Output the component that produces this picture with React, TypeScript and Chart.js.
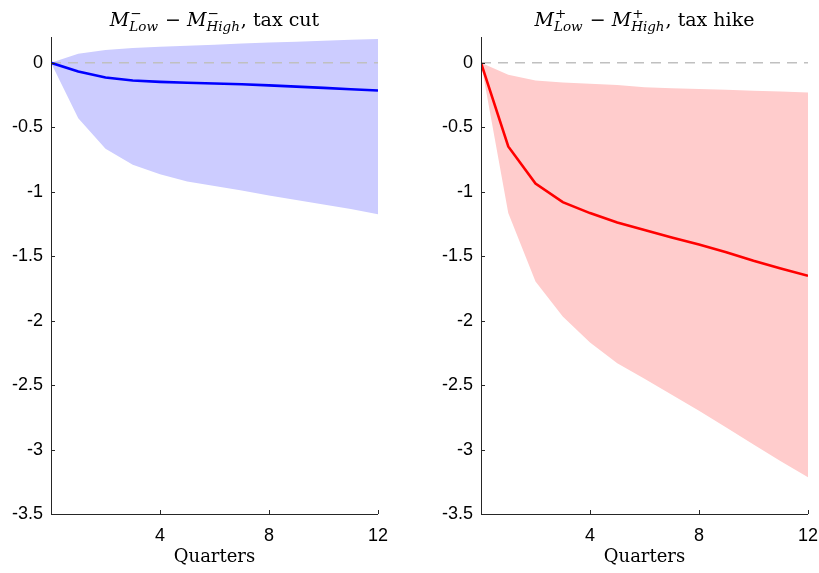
import React, { useEffect, useRef } from "react";
import { Chart, registerables } from "chart.js";

Chart.register(...registerables);

const quarters = [0, 1, 2, 3, 4, 5, 6, 7, 8, 9, 10, 11, 12];
const cutMean = [0, -0.067, -0.114, -0.137, -0.148, -0.155, -0.161, -0.166, -0.175, -0.185, -0.195, -0.205, -0.215];
const cutUpper = [0, 0.07, 0.1, 0.115, 0.125, 0.133, 0.14, 0.15, 0.157, 0.164, 0.171, 0.178, 0.185];
const cutLower = [0, -0.43, -0.667, -0.79, -0.864, -0.92, -0.955, -0.99, -1.03, -1.065, -1.1, -1.135, -1.174];
const hikeMean = [0, -0.649, -0.936, -1.081, -1.166, -1.239, -1.298, -1.355, -1.41, -1.47, -1.536, -1.595, -1.652];
const hikeUpper = [0, -0.093, -0.137, -0.153, -0.163, -0.172, -0.189, -0.197, -0.203, -0.21, -0.216, -0.223, -0.23];
const hikeLower = [0, -1.166, -1.696, -1.968, -2.17, -2.33, -2.45, -2.575, -2.7, -2.83, -2.96, -3.09, -3.215];
const yTicks = [0, -0.5, -1, -1.5, -2, -2.5, -3, -3.5];
const xTicks = [4, 8, 12];
const xLabel = "Quarters";

type Part = { t?: string; sup?: string; sub?: string; italic?: boolean };
const cutTitle: Part[] = [
  { t: "M", italic: true },
  { sup: "\u2212", sub: "Low" },
  { t: " \u2212 " },
  { t: "M", italic: true },
  { sup: "\u2212", sub: "High" },
  { t: ", tax cut" },
];
const hikeTitle: Part[] = [
  { t: "M", italic: true },
  { sup: "+", sub: "Low" },
  { t: " \u2212 " },
  { t: "M", italic: true },
  { sup: "+", sub: "High" },
  { t: ", tax hike" },
];

const SERIF = "'DejaVu Serif', 'Liberation Serif', serif";
const SANS = "'Liberation Sans', Arial, sans-serif";

function pts(ys: number[]) {
  return quarters.map((q, i) => ({ x: q, y: ys[i] }));
}

function makePlugin(title: Part[]) {
  return {
    id: "decor",
    afterDraw(chart: any) {
      const ctx = chart.ctx as CanvasRenderingContext2D;
      const a = chart.chartArea;
      const xs = chart.scales.x;
      const ys = chart.scales.y;
      ctx.save();
      // axes
      ctx.strokeStyle = "#262626";
      ctx.lineWidth = 1;
      ctx.beginPath();
      ctx.moveTo(a.left + 0.5, a.top);
      ctx.lineTo(a.left + 0.5, a.bottom + 0.5);
      ctx.lineTo(a.right, a.bottom + 0.5);
      ctx.stroke();
      // inward ticks
      ctx.beginPath();
      for (const v of yTicks) {
        const p = Math.round(ys.getPixelForValue(v)) + 0.5;
        ctx.moveTo(a.left, p);
        ctx.lineTo(a.left + 4, p);
      }
      for (const v of xTicks) {
        const p = Math.round(xs.getPixelForValue(v)) + 0.5;
        ctx.moveTo(p, a.bottom);
        ctx.lineTo(p, a.bottom - 4);
      }
      ctx.stroke();
      // x label
      ctx.fillStyle = "#000";
      ctx.font = `18px ${SERIF}`;
      ctx.textAlign = "center";
      ctx.textBaseline = "alphabetic";
      ctx.fillText(xLabel, (a.left + a.right) / 2, 562);
      // title
      const big = 19;
      const small = 13.5;
      const bigFont = (it?: boolean) => `${it ? "italic " : ""}${big}px ${SERIF}`;
      const smallFont = (it?: boolean) => `${it ? "italic " : ""}${small}px ${SERIF}`;
      ctx.textAlign = "left";
      let total = 0;
      const widths: number[] = [];
      for (const p of title) {
        let w = 0;
        if (p.t !== undefined) {
          ctx.font = bigFont(p.italic);
          w = ctx.measureText(p.t).width;
        } else {
          ctx.font = smallFont(false);
          const w1 = ctx.measureText(p.sup || "").width;
          ctx.font = smallFont(true);
          const w2 = ctx.measureText(p.sub || "").width;
          w = Math.max(w1, w2) + 1;
        }
        widths.push(w);
        total += w;
      }
      let x = (a.left + a.right) / 2 - total / 2;
      const base = 26;
      title.forEach((p, i) => {
        if (p.t !== undefined) {
          ctx.font = bigFont(p.italic);
          ctx.fillText(p.t, x, base);
        } else {
          ctx.font = smallFont(false);
          ctx.fillText(p.sup || "", x + 1, base - 8);
          ctx.font = smallFont(true);
          ctx.fillText(p.sub || "", x, base + 5);
        }
        x += widths[i];
      });
      ctx.restore();
    },
  };
}

function Panel(props: {
  mean: number[];
  upper: number[];
  lower: number[];
  line: string;
  band: string;
  title: Part[];
  left: number;
  width: number;
  padLeft: number;
  padRight: number;
}) {
  const ref = useRef<HTMLCanvasElement>(null);
  useEffect(() => {
    const chart = new Chart(ref.current!, {
      type: "line",
      data: {
        datasets: [
          {
            data: pts(props.mean),
            borderColor: props.line,
            borderWidth: 2.6,
            pointRadius: 0,
            fill: false,
            tension: 0,
          },
          {
            data: [
              { x: 0, y: 0 },
              { x: 12, y: 0 },
            ],
            borderColor: "#c0c0c0",
            borderWidth: 1.5,
            borderDash: [10, 7],
            pointRadius: 0,
            fill: false,
          },
          {
            data: pts(props.upper),
            borderWidth: 0,
            borderColor: "rgba(0,0,0,0)",
            backgroundColor: props.band,
            pointRadius: 0,
            fill: "+1",
          },
          {
            data: pts(props.lower),
            borderWidth: 0,
            borderColor: "rgba(0,0,0,0)",
            pointRadius: 0,
            fill: false,
          },
        ],
      } as any,
      options: {
        animation: false,
        responsive: false,
        maintainAspectRatio: false,
        layout: { padding: { left: 0, right: props.padRight, top: 37, bottom: 0 } },
        plugins: { legend: { display: false }, tooltip: { enabled: false }, title: { display: false } },
        scales: {
          x: {
            type: "linear",
            min: 0,
            max: 12,
            grid: { display: false, drawTicks: false },
            border: { display: false },
            afterBuildTicks: (s: any) => {
              s.ticks = xTicks.map((v) => ({ value: v }));
            },
            afterFit: (s: any) => {
              s.height = 59;
              s.paddingLeft = 0;
              s.paddingRight = 0;
            },
            ticks: {
              padding: 11,
              color: "#000",
              font: { family: SANS, size: 18 },
              maxRotation: 0,
              autoSkip: false,
            },
          },
          y: {
            type: "linear",
            min: -3.5,
            max: 0.2,
            grid: { display: false, drawTicks: false },
            border: { display: false },
            afterBuildTicks: (s: any) => {
              s.ticks = yTicks.map((v) => ({ value: v }));
            },
            afterFit: (s: any) => {
              s.width = props.padLeft;
              s.paddingTop = 0;
              s.paddingBottom = 0;
            },
            ticks: {
              padding: 8,
              color: "#000",
              font: { family: SANS, size: 18 },
              callback: (v: any) => String(v),
            },
          },
        },
      } as any,
      plugins: [makePlugin(props.title)],
    });
    return () => chart.destroy();
  }, []);
  return (
    <canvas
      ref={ref}
      width={props.width}
      height={573}
      style={{ position: "absolute", left: props.left, top: 0, width: props.width, height: 573 }}
    />
  );
}

export default function App() {
  return (
    <div style={{ position: "fixed", left: 0, top: 0, width: 819, height: 573, background: "#fff" }}>
      <Panel
        mean={cutMean}
        upper={cutUpper}
        lower={cutLower}
        line="#0000ff"
        band="rgb(204,204,255)"
        title={cutTitle}
        left={0}
        width={410}
        padLeft={51}
        padRight={32}
      />
      <Panel
        mean={hikeMean}
        upper={hikeUpper}
        lower={hikeLower}
        line="#ff0000"
        band="rgb(255,204,204)"
        title={hikeTitle}
        left={410}
        width={409}
        padLeft={71}
        padRight={11}
      />
    </div>
  );
}
